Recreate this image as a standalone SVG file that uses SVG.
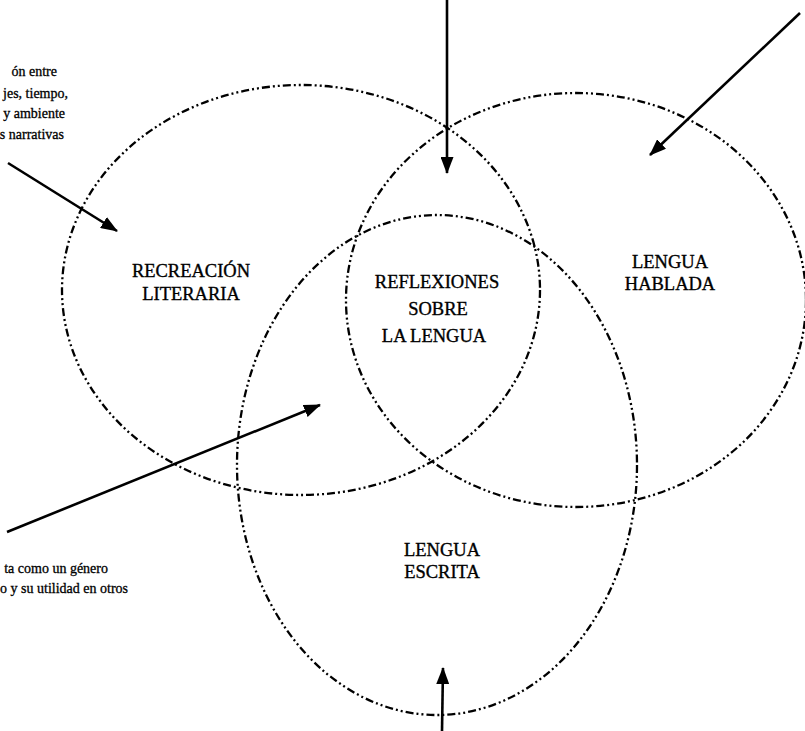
<svg xmlns="http://www.w3.org/2000/svg" width="805" height="731" viewBox="0 0 805 731">
  <style>
    .set { fill: none; stroke: #000; stroke-width: 2.3; stroke-dasharray: 8 3 2 3 2 3; }
    .arrow { fill: none; stroke: #000; stroke-width: 2.6; marker-end: url(#head); }
    .label { font-family: "Liberation Serif", "Times New Roman", serif; font-size: 18.5px; fill: #000; stroke: #000; stroke-width: 0.35; text-anchor: middle; }
    .note { font-family: "Liberation Serif", "Times New Roman", serif; font-size: 14px; fill: #000; stroke: #000; stroke-width: 0.3; text-anchor: end; }
  </style>
  <defs>
    <marker id="head" markerUnits="userSpaceOnUse" markerWidth="17" markerHeight="13" refX="16" refY="6.5" orient="auto">
      <path d="M0,0 L17,6.5 L0,13 Z" fill="#000"/>
    </marker>
  </defs>
  <rect width="805" height="731" fill="#fff"/>

  <!-- overlapping sets -->
  <g id="recreacion-literaria">
    <ellipse class="set" cx="301" cy="290" rx="239" ry="205"/>
    <text class="label" x="191" y="277">RECREACIÓN</text>
    <text class="label" x="191" y="300">LITERARIA</text>
  </g>
  <g id="lengua-hablada">
    <ellipse class="set" cx="576" cy="300" rx="230" ry="207"/>
    <text class="label" x="670" y="268">LENGUA</text>
    <text class="label" x="670" y="290">HABLADA</text>
  </g>
  <g id="lengua-escrita">
    <ellipse class="set" cx="437" cy="465" rx="200" ry="250"/>
    <text class="label" x="442" y="556">LENGUA</text>
    <text class="label" x="442" y="578">ESCRITA</text>
  </g>
  <g id="reflexiones">
    <text class="label" x="437" y="288">REFLEXIONES</text>
    <text class="label" x="438" y="315">SOBRE</text>
    <text class="label" x="434" y="342">LA LENGUA</text>
  </g>

  <!-- side notes -->
  <g id="nota-narrativas">
    <text class="note" x="57" y="76">ón entre</text>
    <text class="note" x="68" y="98">jes, tiempo,</text>
    <text class="note" x="65" y="118">y ambiente</text>
    <text class="note" x="64" y="139">s narrativas</text>
  </g>
  <g id="nota-genero">
    <text class="note" x="108" y="573">ta como un género</text>
    <text class="note" x="128" y="593">o y su utilidad en otros</text>
  </g>

  <!-- pointers -->
  <g id="connectors">
    <path class="arrow" d="M447,0 L447,173"/>
    <path class="arrow" d="M800,13 L650,155"/>
    <path class="arrow" d="M8,163 L117,231"/>
    <path class="arrow" d="M7,532 L320,405"/>
    <path class="arrow" d="M442,731 L443,668"/>
  </g>
</svg>
